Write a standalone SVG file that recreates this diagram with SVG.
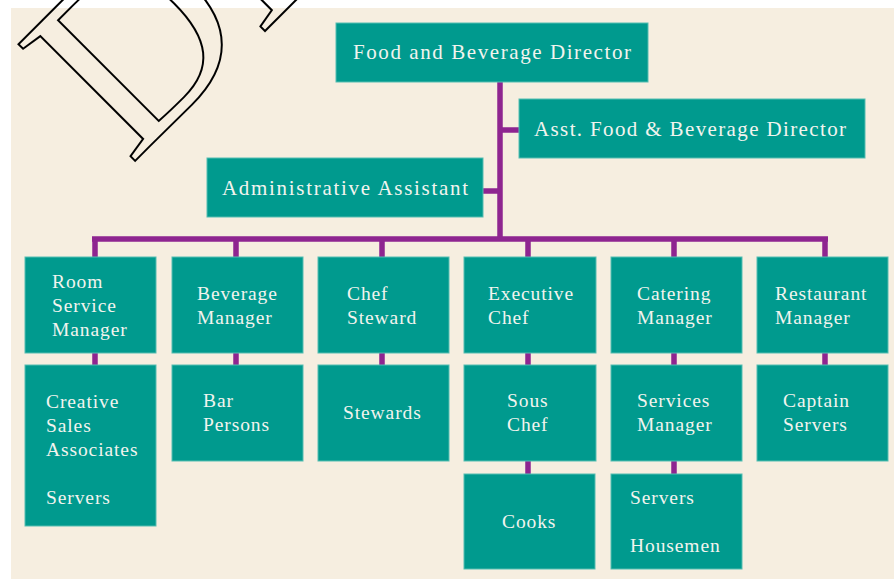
<svg xmlns="http://www.w3.org/2000/svg" width="894" height="579" viewBox="0 0 894 579">
<style>
.box{fill:#009A8E;stroke:#55BDB1;stroke-width:1}
.t{font-family:"Liberation Serif","Times New Roman",serif;font-size:19.5px;fill:#F2F4EE;letter-spacing:0.9px}
.tl{font-family:"Liberation Serif","Times New Roman",serif;font-size:21px;fill:#F2F4EE}
.c{fill:none;stroke:#8E2590;stroke-width:5.5}
.wm{font-family:"Liberation Serif","Times New Roman",serif;font-size:252px;fill:none;stroke:#000;stroke-width:2}
</style>
<rect x="0" y="0" width="894" height="579" fill="#FFFFFF"/>
<rect x="11" y="8" width="883" height="571" fill="#F6EEE0"/>
<g id="connectors">
<path class="c" d="M500 82 V239 M483 191 H500 M500 130 H519 M92 239 H828 M95 239 V258 M236 239 V258 M382 239 V258 M528 239 V258 M674 239 V258 M825 239 V258 M95 353 V365 M236 353 V365 M382 353 V365 M528 353 V365 M674 353 V365 M825 353 V365 M528 461 V474 M674 461 V474"/>
</g>
<g id="fbd"><rect class="box" x="336" y="23" width="312" height="59"/><text class="tl" x="353" y="59" textLength="278" lengthAdjust="spacing">Food and Beverage Director</text></g>
<g id="asst"><rect class="box" x="519" y="99" width="346" height="59"/><text class="tl" x="534" y="136" textLength="312" lengthAdjust="spacing">Asst. Food &amp; Beverage Director</text></g>
<g id="admin"><rect class="box" x="207" y="158" width="276" height="59"/><text class="tl" x="222" y="195" textLength="246" lengthAdjust="spacing">Administrative Assistant</text></g>
<g id="roomservice"><rect class="box" x="25" y="257" width="131" height="96"/><text class="t" x="52" y="288">Room</text><text class="t" x="52" y="312">Service</text><text class="t" x="52" y="336">Manager</text></g>
<g id="beverage"><rect class="box" x="172" y="257" width="131" height="96"/><text class="t" x="197" y="300">Beverage</text><text class="t" x="197" y="324">Manager</text></g>
<g id="chefsteward"><rect class="box" x="318" y="257" width="131" height="96"/><text class="t" x="347" y="300">Chef</text><text class="t" x="347" y="324">Steward</text></g>
<g id="execchef"><rect class="box" x="464" y="257" width="132" height="96"/><text class="t" x="488" y="300">Executive</text><text class="t" x="488" y="324">Chef</text></g>
<g id="catering"><rect class="box" x="611" y="257" width="131" height="96"/><text class="t" x="637" y="300">Catering</text><text class="t" x="637" y="324">Manager</text></g>
<g id="restaurant"><rect class="box" x="757" y="257" width="131" height="96"/><text class="t" x="775" y="300">Restaurant</text><text class="t" x="775" y="324">Manager</text></g>
<g id="creative"><rect class="box" x="25" y="365" width="131" height="161"/><text class="t" x="46" y="408">Creative</text><text class="t" x="46" y="432">Sales</text><text class="t" x="46" y="456">Associates</text><text class="t" x="46" y="504">Servers</text></g>
<g id="bar"><rect class="box" x="172" y="365" width="131" height="96"/><text class="t" x="203" y="407">Bar</text><text class="t" x="203" y="431">Persons</text></g>
<g id="stewards"><rect class="box" x="318" y="365" width="131" height="96"/><text class="t" x="343" y="419">Stewards</text></g>
<g id="souschef"><rect class="box" x="464" y="365" width="132" height="96"/><text class="t" x="507" y="407">Sous</text><text class="t" x="507" y="431">Chef</text></g>
<g id="services"><rect class="box" x="611" y="365" width="131" height="96"/><text class="t" x="637" y="407">Services</text><text class="t" x="637" y="431">Manager</text></g>
<g id="captain"><rect class="box" x="757" y="365" width="131" height="96"/><text class="t" x="783" y="407">Captain</text><text class="t" x="783" y="431">Servers</text></g>
<g id="cooks"><rect class="box" x="464" y="474" width="131" height="95"/><text class="t" x="502" y="528">Cooks</text></g>
<g id="servershousemen"><rect class="box" x="611" y="474" width="131" height="95"/><text class="t" x="630" y="504">Servers</text><text class="t" x="630" y="552">Housemen</text></g>
<text class="wm" transform="translate(130 166) rotate(-45)">DR</text>
</svg>
